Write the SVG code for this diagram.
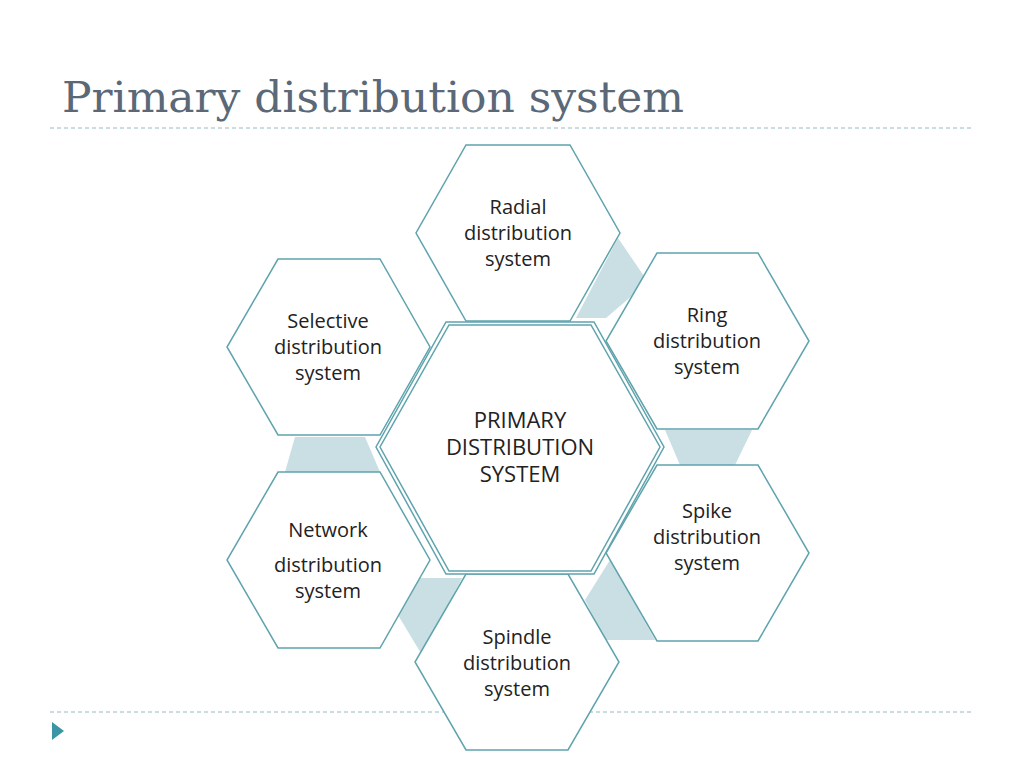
<svg xmlns="http://www.w3.org/2000/svg" width="1024" height="768" viewBox="0 0 1024 768">
<style>
.hex{fill:#fff;stroke:#5fa3ad;stroke-width:1.5}
.t{font-family:"Open Sans","Liberation Sans",sans-serif;font-size:20px;fill:#222;text-anchor:middle}
.c{fill:#c9dfe3}
.d{stroke:#8fbcc4;stroke-width:1;stroke-dasharray:4 3}
</style>
<rect width="1024" height="768" fill="#fff"/>
<text x="62" y="112" font-family="DejaVu Serif,serif" font-size="42" fill="#5a6878" textLength="622" lengthAdjust="spacingAndGlyphs">Primary distribution system</text>
<line class="d" x1="50" y1="128" x2="972" y2="128"/>
<line class="d" x1="50" y1="712" x2="972" y2="712"/>
<polygon points="52,722 52,740 64,731" fill="#3a95a5"/>
<g id="connectors">
<polygon class="c" points="618,238 648,282 606,318 576,318"/>
<polygon class="c" points="665,430 752,430 735,465 680,465"/>
<polygon class="c" points="610,560 655,640 605,640 585,600"/>
<polygon class="c" points="410,578 462,578 422,655 398,615"/>
<polygon class="c" points="295,437 365,437 380,472 285,472"/>
</g>
<g id="radial"><polygon class="hex" points="466,145 570,145 620,233 570,321 466,321 416,233"/>
<text class="t" x="518" y="214">Radial</text><text class="t" x="518" y="240">distribution</text><text class="t" x="518" y="266">system</text></g>
<g id="ring"><polygon class="hex" points="657,253 758,253 809,341 758,429 657,429 606,341"/>
<text class="t" x="707" y="322">Ring</text><text class="t" x="707" y="348">distribution</text><text class="t" x="707" y="374">system</text></g>
<g id="spike"><polygon class="hex" points="657,465 758,465 809,553 758,641 657,641 606,553"/>
<text class="t" x="707" y="518">Spike</text><text class="t" x="707" y="544">distribution</text><text class="t" x="707" y="570">system</text></g>
<g id="spindle"><polygon class="hex" points="466,574 568,574 619,662 568,750 466,750 415,662"/>
<text class="t" x="517" y="644">Spindle</text><text class="t" x="517" y="670">distribution</text><text class="t" x="517" y="696">system</text></g>
<g id="network"><polygon class="hex" points="278,472 380,472 430,560 380,648 278,648 227,560"/>
<text class="t" x="328" y="537">Network</text><text class="t" x="328" y="572">distribution</text><text class="t" x="328" y="598">system</text></g>
<g id="selective"><polygon class="hex" points="278,259 380,259 430,347 380,435 278,435 227,347"/>
<text class="t" x="328" y="328">Selective</text><text class="t" x="328" y="354">distribution</text><text class="t" x="328" y="380">system</text></g>
<g id="center"><polygon class="hex" points="446,322 594,322 664,447 594,574 446,574 376,447"/>
<polygon class="hex" points="449,325 591,325 660,447 591,571 449,571 380,447"/>
<text class="t" x="520" y="428" style="font-size:22px">PRIMARY</text><text class="t" x="520" y="455" style="font-size:22px">DISTRIBUTION</text><text class="t" x="520" y="482" style="font-size:22px">SYSTEM</text></g>
</svg>
